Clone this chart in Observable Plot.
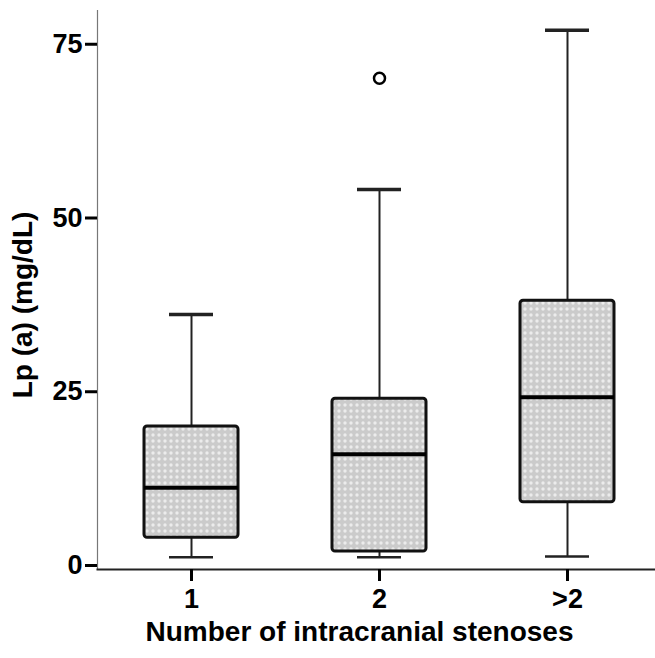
<!DOCTYPE html>
<html><head><meta charset="utf-8">
<script src="https://cdn.jsdelivr.net/npm/d3@7"></script>
<script src="https://cdn.jsdelivr.net/npm/@observablehq/plot@0.6"></script>
<style>body{margin:0;background:#fff}</style>
</head><body><div id="chart"></div>
<script>
const groups = ["1", "2", ">2"];
const whiskerLow = [1.2, 1.2, 1.3];
const q1 = [4.0, 2.0, 9.1];
const median = [11.2, 16.0, 24.2];
const q3 = [20.0, 24.0, 38.1];
const whiskerHigh = [36.1, 54.1, 77.0];
const outlierGroup = ["2"];
const outlierValue = [70.1];
const yTicks = [0, 25, 50, 75];
const xTitle = "Number of intracranial stenoses";
const yTitle = "Lp (a) (mg/dL)";

const boxes = groups.map((g, i) => ({g, lo: whiskerLow[i], q1: q1[i], med: median[i], q3: q3[i], hi: whiskerHigh[i]}));
const outliers = outlierGroup.map((g, i) => ({g, v: outlierValue[i]}));
const font = "'Liberation Sans', Arial, Helvetica, sans-serif";

const chart = Plot.plot({
  width: 655, height: 658,
  marginLeft: 97, marginRight: 0, marginTop: 10, marginBottom: 89,
  style: {fontFamily: font, background: "#fff", color: "#000"},
  x: {type: "band", domain: groups, range: [97, 661], paddingInner: 0.5, paddingOuter: 0.25},
  y: {domain: [0, 80], range: [565, 9]},
  marks: [
    Plot.frame({anchor: "left", stroke: "#777", strokeWidth: 1.2}),
    Plot.frame({anchor: "bottom", stroke: "#222", strokeWidth: 2, strokeDasharray: "2,1"}),
    Plot.axisY({ticks: yTicks, tickSize: 12, tickPadding: 3, fontSize: 27, fontWeight: "bold", strokeWidth: 3, label: null}),
    Plot.axisX({tickSize: 12, tickPadding: 7, fontSize: 27, fontWeight: "bold", strokeWidth: 3, label: null}),
    Plot.ruleX(boxes, {x: "g", y1: "q3", y2: "hi", stroke: "#222", strokeWidth: 2}),
    Plot.ruleX(boxes, {x: "g", y1: "lo", y2: "q1", stroke: "#222", strokeWidth: 2}),
    Plot.tickY(boxes, {x: "g", y: "hi", insetLeft: 25, insetRight: 25, stroke: "#222", strokeWidth: 3.5}),
    Plot.tickY(boxes, {x: "g", y: "lo", insetLeft: 25, insetRight: 25, stroke: "#222", strokeWidth: 2.5}),
    Plot.barY(boxes, {x: "g", y1: "q1", y2: "q3", fill: "url(#dotfill)", stroke: "#111", strokeWidth: 3, rx: 3}),
    Plot.tickY(boxes, {x: "g", y: "med", stroke: "#000", strokeWidth: 4}),
    Plot.dot(outliers, {x: "g", y: "v", r: 5.5, stroke: "#000", strokeWidth: 2.5, fill: "#fff"}),
    Plot.text([yTitle], {frameAnchor: "left", dx: -74, dy: 15, rotate: -90, textAnchor: "middle", fontSize: 28, fontWeight: "bold", fill: "#000"}),
    Plot.text([xTitle], {frameAnchor: "bottom", dx: -17, dy: 71, textAnchor: "middle", fontSize: 28, fontWeight: "bold", fill: "#000"})
  ]
});

d3.select(chart).insert("defs", ":first-child").html(
  '<pattern id="dotfill" width="6" height="6" patternUnits="userSpaceOnUse">' +
  '<rect width="6" height="6" fill="#cbcbcb"/>' +
  '<circle cx="3" cy="3" r="1.7" fill="#ececec"/></pattern>'
);
document.getElementById("chart").appendChild(chart);
</script>
</body></html>
